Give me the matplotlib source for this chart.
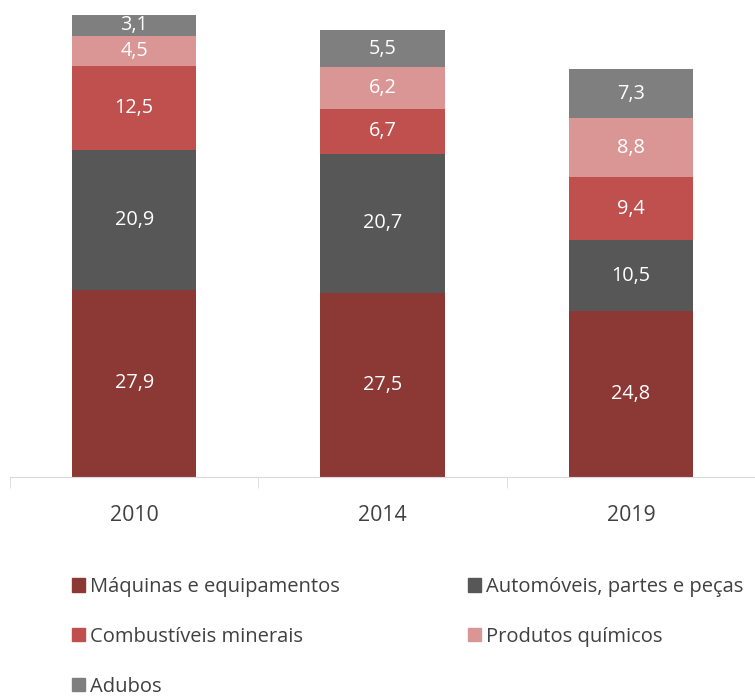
import matplotlib
matplotlib.use("Agg")
import matplotlib.pyplot as plt
from matplotlib.patches import Patch
import numpy as np

plt.rcParams['font.family'] = ['Open Sans', 'DejaVu Sans']

years = ["2010", "2014", "2019"]
series_names = ["Máquinas e equipamentos", "Automóveis, partes e peças",
                "Combustíveis minerais", "Produtos químicos", "Adubos"]
maquinas = [27.9, 27.5, 24.8]
automoveis = [20.9, 20.7, 10.5]
combustiveis = [12.5, 6.7, 9.4]
quimicos = [4.5, 6.2, 8.8]
adubos = [3.1, 5.5, 7.3]
colors = ["#8C3835", "#575757", "#C0504D", "#D99694", "#7F7F7F"]

values = [maquinas, automoveis, combustiveis, quimicos, adubos]

fig = plt.figure(figsize=(7.55, 6.97), dpi=100)
ax = fig.add_axes([10/755, 1-477/697, 745/755, 477/697])
x = np.arange(len(years))
bottom = np.zeros(len(years))
handles = []
for name, vals, c in zip(series_names, values, colors):
    ax.bar(x, vals, 0.5, bottom=bottom, color=c, label=name)
    for xi, b, v in zip(x, bottom, vals):
        ax.text(xi, b + v/2, f"{v:.1f}".replace(".", ","), ha="center", va="center",
                color="white", fontsize=14.3)
    bottom += np.array(vals)
    handles.append(Patch(color=c, label=name))

ax.set_xlim(-0.5, 2.5)
ax.set_ylim(0, 477/6.705)
for s in ["top", "right", "left"]:
    ax.spines[s].set_visible(False)
ax.spines["bottom"].set_color("#D9D9D9")
ax.set_yticks([])
ax.set_xticks(x)
ax.set_xticklabels(years, fontsize=15.3, color="#404040")
ax.tick_params(axis="x", which="major", length=0, pad=20)
ax.set_xticks([-0.5, 0.5, 1.5, 2.5], minor=True)
ax.tick_params(axis="x", which="minor", length=8, color="#D9D9D9")

leg_kw = dict(loc="upper left", frameon=False, fontsize=14.5, labelcolor="#404040",
              handlelength=0.65, handleheight=0.65, handletextpad=0.25,
              labelspacing=1.48, borderpad=0, borderaxespad=0)
fig.legend([handles[i] for i in [0, 2, 4]], [series_names[i] for i in [0, 2, 4]],
           bbox_to_anchor=(72/755, 1-577/697), **leg_kw)
fig.legend([handles[i] for i in [1, 3]], [series_names[i] for i in [1, 3]],
           bbox_to_anchor=(468/755, 1-577/697), **leg_kw)

fig.savefig("out.png", dpi=100)
